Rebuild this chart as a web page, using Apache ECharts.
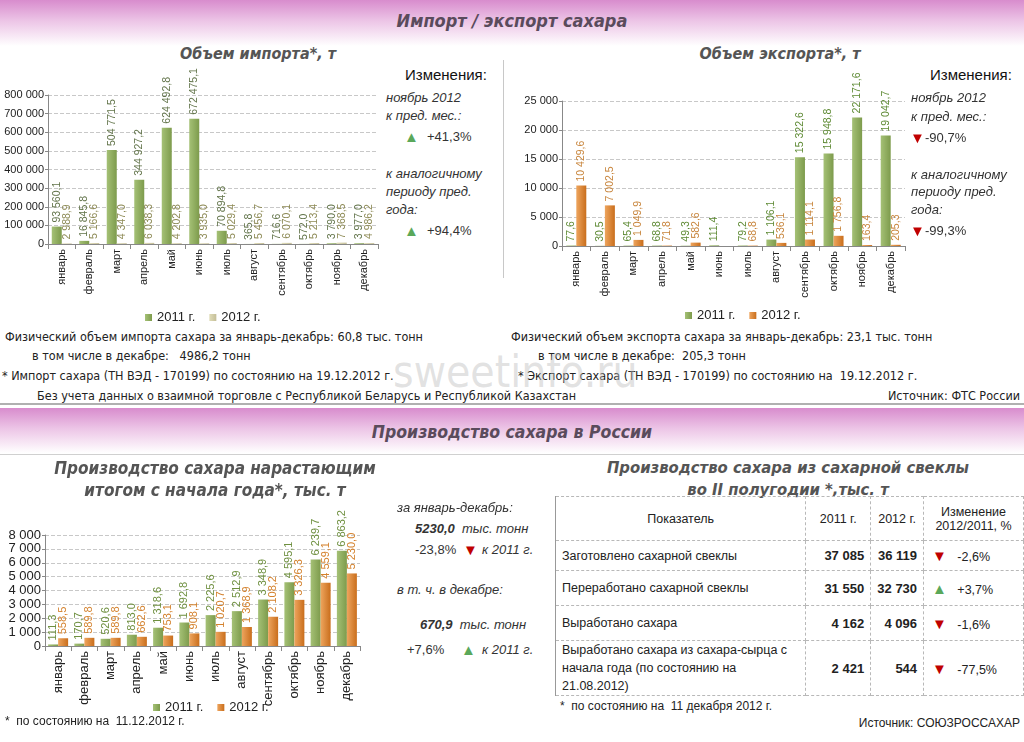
<!DOCTYPE html>
<html><head><meta charset="utf-8">
<script src="https://cdn.jsdelivr.net/npm/echarts@6/dist/echarts.min.js"></script>
<style>
html,body{margin:0;padding:0;width:1024px;height:742px;overflow:hidden;background:#fff;font-family:"Liberation Sans",Arial,sans-serif;}
.t{position:absolute;white-space:nowrap;line-height:1;color:#222;}
.n{font-family:"Liberation Sans Narrow","DejaVu Sans Condensed",sans-serif;font-size:12.5px;}
.h{font-family:"Liberation Sans Narrow","DejaVu Sans Condensed",sans-serif;font-weight:bold;font-style:italic;color:#555;font-size:16.5px;text-align:center;}
.i{font-style:italic;color:#333;font-size:13px;}
.band{position:absolute;left:0;width:1024px;background:linear-gradient(#d88ccd,#ecc4e6 45%,#fff);}
.chart{position:absolute;}
.up{color:#5aa85a;font-size:15px;} .dn{color:#c00000;font-size:15px;}
table{border-collapse:collapse;font-size:12.5px;color:#222;}
td{border:1px dashed #b8b8b8;padding:0 6px;}
</style></head><body>
<div class="band" style="top:0;height:46px"></div>
<div class="t h" style="left:0;width:1024px;top:12px;color:#5a4b5c;font-size:18px">Импорт / экспорт сахара</div>
<div class="t h" style="left:0;width:516px;top:46px;font-size:16px">Объем импорта*, т</div>
<div class="t h" style="left:536px;width:488px;top:46px;font-size:16px">Объем экспорта*, т</div>
<div style="position:absolute;left:503px;top:60px;width:1px;height:218px;background:#c8c8c8"></div>

<div id="imp" class="chart" style="left:0;top:60px;width:385px;height:268px"></div>
<div id="exp" class="chart" style="left:505px;top:60px;width:410px;height:268px"></div>
<div id="prod" class="chart" style="left:0;top:470px;width:385px;height:250px"></div>

<!-- import changes -->
<div class="t" style="left:405px;top:67px;font-size:15px;color:#111">Изменения:</div>
<div class="t i" style="left:386px;top:91px">ноябрь 2012</div>
<div class="t i" style="left:386px;top:109px">к пред. мес.:</div>
<div class="t up" style="left:404px;top:129px">▲</div>
<div class="t" style="left:427px;top:130px;font-size:13px;color:#333">+41,3%</div>
<div class="t i" style="left:386px;top:167px">к аналогичному</div>
<div class="t i" style="left:386px;top:185px">периоду пред.</div>
<div class="t i" style="left:386px;top:203px">года:</div>
<div class="t up" style="left:404px;top:223px">▲</div>
<div class="t" style="left:427px;top:224px;font-size:13px;color:#333">+94,4%</div>
<!-- export changes -->
<div class="t" style="left:930px;top:67px;font-size:15px;color:#111">Изменения:</div>
<div class="t i" style="left:911px;top:91px">ноябрь 2012</div>
<div class="t i" style="left:911px;top:110px">к пред. мес.:</div>
<div class="t dn" style="left:910px;top:130px">▼</div>
<div class="t" style="left:925px;top:131px;font-size:13px;color:#333">-90,7%</div>
<div class="t i" style="left:911px;top:168px">к аналогичному</div>
<div class="t i" style="left:911px;top:185px">периоду пред.</div>
<div class="t i" style="left:911px;top:203px">года:</div>
<div class="t dn" style="left:910px;top:223px">▼</div>
<div class="t" style="left:925px;top:224px;font-size:13px;color:#333">-99,3%</div>

<!-- import/export notes -->
<div class="t n" style="left:5px;top:331px">Физический объем импорта сахара за январь-декабрь: 60,8 тыс. тонн</div>
<div class="t n" style="left:32px;top:350px">в том числе в декабре:&nbsp;&nbsp; 4986,2 тонн</div>
<div class="t n" style="left:2px;top:370px">* Импорт сахара (ТН ВЭД - 170199) по состоянию на 19.12.2012 г.</div>
<div class="t n" style="left:37px;top:390px">Без учета данных о взаимной торговле с Республикой Беларусь и Республикой Казахстан</div>
<div class="t n" style="left:511px;top:331px">Физический объем экспорта сахара за январь-декабрь: 23,1 тыс. тонн</div>
<div class="t n" style="left:538px;top:350px">в том числе в декабре:&nbsp; 205,3 тонн</div>
<div class="t n" style="left:518px;top:370px">* Экспорт сахара (ТН ВЭД - 170199) по состоянию на&nbsp; 19.12.2012 г.</div>
<div class="t n" style="right:4px;top:390px">Источник: ФТС России</div>
<div class="t n" style="left:393px;top:350px;font-size:44px;color:rgba(190,190,190,0.45)">sweetinfo.ru</div>

<div style="position:absolute;left:0;top:403px;width:1024px;height:2px;background:#b0b0b0"></div>
<div class="band" style="top:408px;height:45px"></div>
<div class="t h" style="left:0;width:1024px;top:424px;color:#5a4b5c;font-size:17.5px">Производство сахара в России</div>
<div style="position:absolute;left:0;top:454px;width:1024px;height:1px;background:#d0d0d0"></div>

<div class="t h" style="left:0;width:430px;top:460px;font-size:17px">Производство сахара нарастающим</div>
<div class="t h" style="left:0;width:430px;top:482px;font-size:17px">итогом с начала года*, тыс. т</div>
<div class="t h" style="left:553px;width:470px;top:460px">Производство сахара из сахарной свеклы</div>
<div class="t h" style="left:553px;width:470px;top:482px">во II полугодии *,тыс. т</div>

<!-- production summary -->
<div class="t i" style="left:397px;top:501px">за январь-декабрь:</div>
<div class="t i" style="left:415px;top:522px"><b>5230,0</b>&nbsp; тыс. тонн</div>
<div class="t" style="left:415px;top:543px;font-size:13px;color:#333">-23,8%</div>
<div class="t dn" style="left:463px;top:542px">▼</div>
<div class="t i" style="left:482px;top:543px">к 2011 г.</div>
<div class="t i" style="left:397px;top:583px">в т. ч. в декабре:</div>
<div class="t i" style="left:420px;top:618px"><b>670,9</b>&nbsp; тыс. тонн</div>
<div class="t" style="left:407px;top:643px;font-size:13px;color:#333">+7,6%</div>
<div class="t up" style="left:461px;top:642px">▲</div>
<div class="t i" style="left:482px;top:643px">к 2011 г.</div>

<div id="tbl" style="position:absolute;left:555px;top:496px;border-left:1px solid #999"></div>

<div class="t" style="left:5px;top:715px;font-size:12px">*&nbsp; по состоянию на&nbsp; 11.12.2012 г.</div>
<div class="t" style="left:560px;top:700px;font-size:12px">*&nbsp; по состоянию на&nbsp; 11 декабря 2012 г.</div>
<div class="t" style="right:4px;top:717px;font-size:12px">Источник: СОЮЗРОССАХАР</div>

<script>
var months = ['январь','февраль','март','апрель','май','июнь','июль','август','сентябрь','октябрь','ноябрь','декабрь'];
var import2011 = [93560.1,16845.8,504771.5,344927.2,624492.8,672475.1,70894.8,365.8,716.6,572.0,3790.0,3977.0];
var import2012 = [2988.9,5166.6,4347.0,6038.3,4202.8,3935.0,5029.4,5456.7,6070.1,5213.4,7368.5,4986.2];
var export2011 = [77.6,30.5,65.4,68.8,49.3,111.4,79.2,1106.1,15322.6,15948.8,22171.6,19042.7];
var export2012 = [10429.6,7002.5,1049.9,71.8,582.6,null,68.8,536.1,1114.1,1756.8,163.4,205.3];
var prod2011 = [111.3,170.7,520.6,813.0,1318.6,1692.8,2225.6,2512.9,3348.9,4595.1,6239.7,6863.2];
var prod2012 = [558.5,589.8,589.8,662.6,753.1,908.1,1020.7,1368.9,2108.2,3326.3,4559.1,5230.0];
var tableHead = ['Показатель','2011 г.','2012 г.','Изменение<br>2012/2011, %'];
var tableNames = ['Заготовлено сахарной свеклы','Переработано сахарной свеклы','Выработано сахара','Выработано сахара из сахара-сырца с начала года (по состоянию на 21.08.2012)'];
var table2011 = ['37 085','31 550','4 162','2 421'];
var table2012 = ['36 119','32 730','4 096','544'];
var tableChange = ['-2,6%','+3,7%','-1,6%','-77,5%'];

function grp(s){return s.replace(/\B(?=(\d{3})+(?!\d))/g,' ');}
function fmt(v){ if(v==null) return ''; var s=v.toFixed(1).split('.'); return grp(s[0])+','+s[1]; }
function grad(a,b){return new echarts.graphic.LinearGradient(0,0,1,0,[{offset:0,color:a},{offset:1,color:b}]);}
var green = grad('#a5c176','#7d9b4c');
var orange = grad('#eea55e','#c96e1c');
var pale = grad('#e0dcb8','#c4be98');

function makeOpt(cfg){
  return {
    animation:false,
    legend:{data:['2011 г.','2012 г.'],top:cfg.legTop,left:cfg.legLeft,icon:'rect',itemWidth:7,itemHeight:7,itemGap:14,
      textStyle:{fontSize:cfg.legFs,color:'#222',fontFamily:'Liberation Sans'}},
    grid:cfg.grid,
    xAxis:{type:'category',data:months,axisLine:{lineStyle:{color:'#888'}},axisTick:{show:true,lineStyle:{color:'#888'}},
      axisLabel:{rotate:90,interval:0,fontSize:cfg.catFs,color:'#222',margin:5,fontFamily:'Liberation Sans'}},
    yAxis:{type:'value',min:0,max:cfg.max,interval:cfg.interval,
      axisLine:{show:true,lineStyle:{color:'#888'}},axisTick:{show:true,length:3,lineStyle:{color:'#888'}},
      splitLine:{lineStyle:{type:'dashed',color:'#c8c8c8'}},
      axisLabel:{fontSize:cfg.yFs,color:'#222',margin:4,fontFamily:'Liberation Sans',formatter:function(v){return grp(String(v));}}},
    series:[
      {name:'2011 г.',type:'bar',data:cfg.a,barWidth:cfg.bw,barGap:'0%',itemStyle:{color:green},
       label:{show:true,position:'top',rotate:90,align:'left',verticalAlign:'middle',distance:4,fontSize:cfg.lFs,color:cfg.ca,formatter:function(p){return fmt(p.value);}}},
      {name:'2012 г.',type:'bar',data:cfg.b,barWidth:cfg.bw,itemStyle:{color:cfg.colB},
       label:{show:true,position:'top',rotate:90,align:'left',verticalAlign:'middle',distance:4,fontSize:cfg.lFs,color:cfg.cb,formatter:function(p){return fmt(p.value);}}}
    ]
  };
}

echarts.init(document.getElementById('imp')).setOption(makeOpt({
  grid:{left:48,top:35,width:330,height:149},max:800000,interval:100000,a:import2011,b:import2012,
  bw:10,colB:pale,ca:'#62744a',cb:'#8d8a55',lFs:10.5,catFs:11,yFs:11,legTop:246,legLeft:140,legFs:13}));
echarts.init(document.getElementById('exp')).setOption(makeOpt({
  grid:{left:57,top:41,width:343,height:145},max:25000,interval:5000,a:export2011,b:export2012,
  bw:10,colB:orange,ca:'#5e8a34',cb:'#c8853c',lFs:10.5,catFs:11,yFs:11,legTop:244,legLeft:175,legFs:13}));
echarts.init(document.getElementById('prod')).setOption(makeOpt({
  grid:{left:45,top:65,width:315,height:111},max:8000,interval:1000,a:prod2011,b:prod2012,
  bw:10,colB:orange,ca:'#6f9040',cb:'#d4822e',lFs:11,catFs:13,yFs:13,legTop:226,legLeft:148,legFs:13}));

// table
var widths=[251,65,53,100], heights=[44,30,35,35,52];
var h='<table><tr style="height:'+heights[0]+'px">';
tableHead.forEach(function(t,i){h+='<td style="width:'+(widths[i]-13)+'px;text-align:center;'+(i==0?'border-left:none;':'')+'border-top:1px dashed #b8b8b8">'+t+'</td>';});
h+='</tr>';
for(var r=0;r<tableNames.length;r++){
  var up = tableChange[r].charAt(0)=='+';
  h+='<tr style="height:'+heights[r+1]+'px"><td style="border-left:none;line-height:18px">'+tableNames[r]+'</td>'+
     '<td style="text-align:right;font-weight:bold;font-size:13px">'+table2011[r]+'</td>'+
     '<td style="text-align:right;font-weight:bold;font-size:13px">'+table2012[r]+'</td>'+
     '<td style="padding-left:8px"><span class="'+(up?'up':'dn')+'">'+(up?'▲':'▼')+'</span>&nbsp;&nbsp; '+tableChange[r]+'</td></tr>';
}
h+='</table>';
document.getElementById('tbl').innerHTML=h;
</script>
</body></html>
